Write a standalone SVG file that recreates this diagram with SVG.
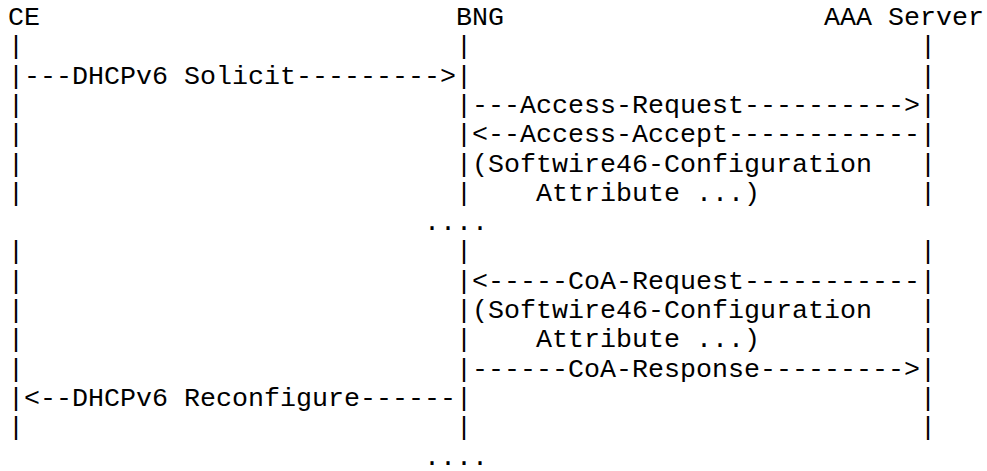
<svg xmlns="http://www.w3.org/2000/svg" width="987" height="471" viewBox="0 0 987 471">
<style>
text { font-family: "Liberation Mono", "Courier New", monospace; font-size: 26.667px; fill: #000; white-space: pre; }
</style>
<rect x="0" y="0" width="987" height="471" fill="#fff"/>
<g id="node-ce">
  <text x="8" y="25">CE</text>
  <text><tspan x="8" y="54.3">|</tspan><tspan x="8" y="83.6">|</tspan><tspan x="8" y="112.9">|</tspan><tspan x="8" y="142.2">|</tspan><tspan x="8" y="171.5">|</tspan><tspan x="8" y="200.8">|</tspan><tspan x="8" y="259.4">|</tspan><tspan x="8" y="288.7">|</tspan><tspan x="8" y="318">|</tspan><tspan x="8" y="347.3">|</tspan><tspan x="8" y="376.6">|</tspan><tspan x="8" y="405.9">|</tspan><tspan x="8" y="435.2">|</tspan></text>
</g>
<g id="node-bng">
  <text x="456" y="25">BNG</text>
  <text><tspan x="456" y="54.3">|</tspan><tspan x="456" y="83.6">|</tspan><tspan x="456" y="112.9">|</tspan><tspan x="456" y="142.2">|</tspan><tspan x="456" y="171.5">|</tspan><tspan x="456" y="200.8">|</tspan><tspan x="456" y="259.4">|</tspan><tspan x="456" y="288.7">|</tspan><tspan x="456" y="318">|</tspan><tspan x="456" y="347.3">|</tspan><tspan x="456" y="376.6">|</tspan><tspan x="456" y="405.9">|</tspan><tspan x="456" y="435.2">|</tspan></text>
</g>
<g id="node-aaa">
  <text x="824" y="25">AAA Server</text>
  <text><tspan x="920" y="54.3">|</tspan><tspan x="920" y="83.6">|</tspan><tspan x="920" y="112.9">|</tspan><tspan x="920" y="142.2">|</tspan><tspan x="920" y="171.5">|</tspan><tspan x="920" y="200.8">|</tspan><tspan x="920" y="259.4">|</tspan><tspan x="920" y="288.7">|</tspan><tspan x="920" y="318">|</tspan><tspan x="920" y="347.3">|</tspan><tspan x="920" y="376.6">|</tspan><tspan x="920" y="405.9">|</tspan><tspan x="920" y="435.2">|</tspan></text>
</g>
<g id="connectors">
  <text x="24" y="83.6">---DHCPv6 Solicit---------&gt;</text>
  <text x="472" y="112.9">---Access-Request----------&gt;</text>
  <text x="472" y="142.2">&lt;--Access-Accept------------</text>
  <text x="472" y="288.7">&lt;-----CoA-Request-----------</text>
  <text x="472" y="376.6">------CoA-Response---------&gt;</text>
  <text x="24" y="405.9">&lt;--DHCPv6 Reconfigure------</text>
</g>
<g id="notes">
  <text x="472" y="171.5">(Softwire46-Configuration</text>
  <text x="536" y="200.8">Attribute ...)</text>
  <text x="472" y="318">(Softwire46-Configuration</text>
  <text x="536" y="347.3">Attribute ...)</text>
  <text x="424" y="230.1">....</text>
  <text x="424" y="464.5">....</text>
</g>
</svg>
